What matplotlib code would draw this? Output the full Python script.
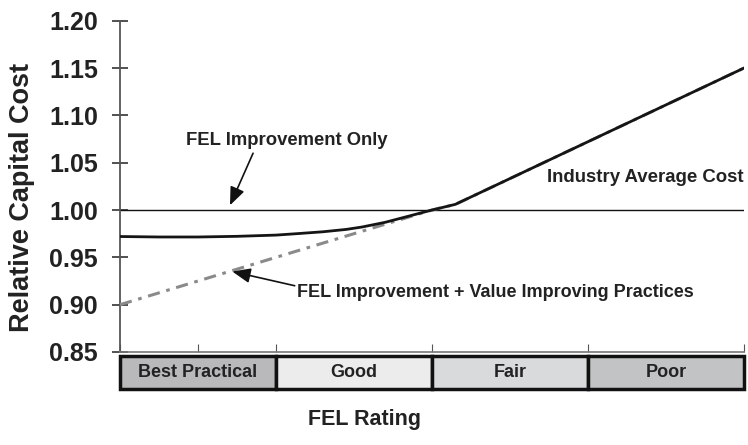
import matplotlib
matplotlib.use("Agg")
import matplotlib.pyplot as plt
from matplotlib.patches import Rectangle

plt.rcParams["font.family"] = ["Liberation Sans", "DejaVu Sans"]
plt.rcParams["font.weight"] = "bold"

# FEL rating position along the x axis (0 = best practical, 4 = poor)
fel_only_x = [0.0, 0.25, 0.5, 0.75, 1.0, 1.15, 1.3, 1.45, 1.55, 1.7, 1.85,
              2.0, 2.15, 4.0]
fel_only_y = [0.972, 0.9715, 0.9715, 0.9722, 0.9735, 0.9752, 0.977, 0.9795,
              0.982, 0.987, 0.9935, 1.000, 1.006, 1.150]

fel_vip_x = [0.0, 2.0, 2.15, 4.0]
fel_vip_y = [0.900, 1.000, 1.006, 1.150]

industry_avg = 1.00

ratings = ["Best Practical", "Good", "Fair", "Poor"]
rating_colors = ["#b9b9bb", "#ececec", "#d9dadb", "#c2c3c4"]

yticks = [0.85, 0.90, 0.95, 1.00, 1.05, 1.10, 1.15, 1.20]
xticks = [0, 0.5, 1, 2, 3, 4]

fig = plt.figure(figsize=(7.48, 4.45), dpi=100)
ax = fig.add_axes((120 / 748, 93 / 445, 624 / 748, 331.3 / 445))

ax.axhline(industry_avg, color="#111111", lw=1.0, zorder=2)
ax.plot(fel_vip_x, fel_vip_y, color="#8a8a8a", lw=2.2,
        linestyle=(0, (4.0, 2.2, 1.2, 2.2)), zorder=3)
ax.plot(fel_only_x, fel_only_y, color="#151515", lw=2.0, zorder=4)

ax.set_xlim(0, 4)
ax.set_ylim(0.85, 1.20)
ax.set_yticks(yticks)
ax.set_yticklabels([f"{v:.2f}" for v in yticks])
ax.set_xticks(xticks)
ax.set_xticklabels([])

for s in ["top", "right"]:
    ax.spines[s].set_visible(False)
ax.spines["left"].set_color("#555555")
ax.spines["left"].set_linewidth(1.3)
ax.spines["bottom"].set_color("#777777")
ax.spines["bottom"].set_linewidth(1.2)

ax.tick_params(axis="y", direction="inout", length=12, width=1.2,
               color="#333333", pad=10, labelsize=18, labelcolor="#222222")
ax.tick_params(axis="x", direction="in", length=6, width=0.8, color="#555555")

# rating boxes under the axis
trans = ax.get_xaxis_transform()
for i, (name, c) in enumerate(zip(ratings, rating_colors)):
    ax.add_patch(Rectangle((i, -0.112), 1, 0.1, transform=trans,
                           facecolor=c, edgecolor="#111111", lw=2.5,
                           clip_on=False, zorder=5))
    ax.text(i + 0.5, -0.062, name, transform=trans, ha="center",
            va="center", fontsize=13, color="#222222", zorder=6)

arrow = dict(arrowstyle="-|>,head_length=1.1,head_width=0.45",
             color="#111111", lw=1.2, shrinkA=0, shrinkB=0)

ax.annotate("", xy=(0.705, 1.005), xytext=(0.853, 1.060),
            arrowprops=arrow)
ax.text(0.42, 1.073, "FEL Improvement Only", ha="left", va="center",
        fontsize=13.3, color="#222222")

ax.annotate("", xy=(0.72, 0.935), xytext=(1.12, 0.920), arrowprops=arrow)
ax.text(1.135, 0.9125, "FEL Improvement + Value Improving Practices",
        ha="left", va="center", fontsize=13, color="#222222")

ax.text(4.0, 1.034, "Industry Average Cost", ha="right", va="center",
        fontsize=13.4, color="#222222")

fig.text(22 / 748, 1 - 197 / 445, "Relative Capital Cost", rotation=90,
         ha="center", va="center", fontsize=19.5, color="#222222")
fig.text(365 / 748, 1 - 420 / 445, "FEL Rating", ha="center", va="center",
         fontsize=15.5, color="#222222")

fig.savefig("out.png", dpi=100)
